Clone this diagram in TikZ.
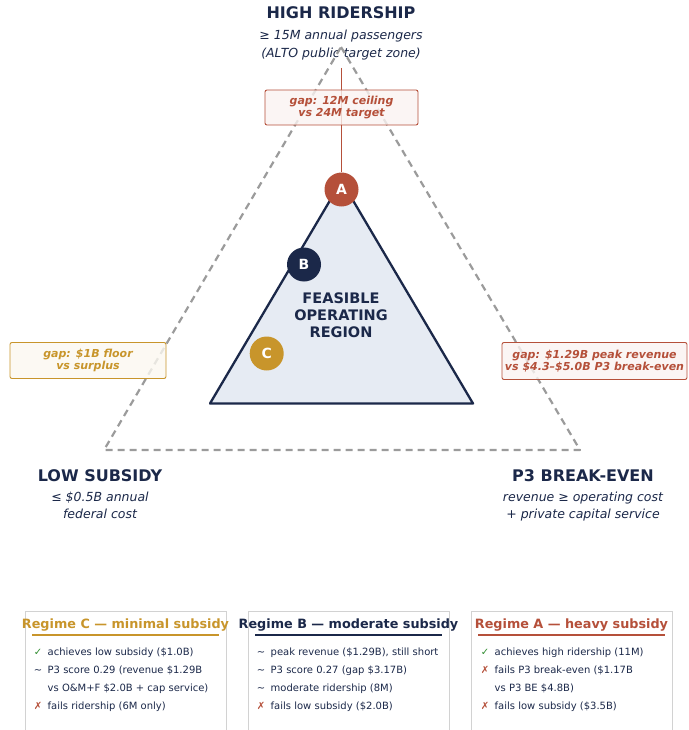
\documentclass[tikz,border=0pt]{standalone}
\usepackage{fontspec}
\setmainfont{DejaVu Sans}
\usepackage{tikz}

\definecolor{navy}{HTML}{1B2849}
\definecolor{rust}{HTML}{B5503A}
\definecolor{gold}{HTML}{C8952B}
\definecolor{okgreen}{HTML}{2E8B2E}
\definecolor{dashgray}{HTML}{9B9B9B}
\definecolor{regionfill}{HTML}{E6EBF3}
\definecolor{boxgray}{HTML}{D2D2D2}

\begin{document}
\begin{tikzpicture}[x=1pt,y=-1pt,
  corner/.style={anchor=base, text=navy, font=\bfseries\fontsize{16}{18}\selectfont},
  cornersub/.style={anchor=base, text=navy, font=\itshape\fontsize{12.5}{14}\selectfont},
  gapbox/.style={draw=#1, line width=0.9pt, fill=#1!7, fill opacity=0.8, text opacity=1,
    rounded corners=2pt, text=#1, align=center, inner sep=0pt,
    font=\bfseries\itshape\fontsize{11}{12}\selectfont},
  dot/.style={circle, fill=#1, minimum size=34pt, inner sep=0pt, text=white,
    font=\bfseries\fontsize{14}{14}\selectfont},
  regimetitle/.style={anchor=base, text=#1, font=\bfseries\fontsize{12.8}{14}\selectfont},
  symb/.style={anchor=base, text=#1, font=\fontsize{10}{12}\selectfont},
  item/.style={anchor=base west, inner sep=0pt, text=navy, font=\fontsize{10}{12}\selectfont}
]
\useasboundingbox (0,0) rectangle (688,730);

% corner labels
\node[corner] (hr) at (341,18.5) {HIGH RIDERSHIP};
\node[cornersub] (hr1) at (341,40) {≥ 15M annual passengers};
\node[cornersub] (hr2) at (341,58) {(ALTO public target zone)};

\node[corner] (ls) at (100,481) {LOW SUBSIDY};
\node[cornersub] (ls1) at (100,501) {≤ \$0.5B annual};
\node[cornersub] (ls2) at (100,518) {federal cost};

\node[corner] (be) at (583,481) {P3 BREAK-EVEN};
\node[cornersub] (be1) at (583,501) {revenue ≥ operating cost};
\node[cornersub] (be2) at (583,518) {+ private capital service};

% target triangle and feasible region
\draw[dashgray, line width=2.2pt, dash pattern=on 7pt off 5pt, line join=round]
  (341,47) -- (580,450) -- (104,450) -- cycle;
\draw[navy, fill=regionfill, line width=2.3pt, line join=round]
  (341.5,181) -- (473,403.5) -- (210,403.5) -- cycle;
\node[text=navy, align=center, font=\bfseries\fontsize{14.5}{17}\selectfont] (region) at (341,315) {FEASIBLE\\OPERATING\\REGION};

% regimes
\node[dot=rust] (A) at (341.5,189.5) {A};
\node[dot=navy] (B) at (304,264.5) {B};
\node[dot=gold] (C) at (266.7,353.5) {C};

\coordinate (atop) at (341.5,68);
\draw[rust, line width=1.2pt] (atop) -- (A);

% gaps
\node[gapbox=rust, minimum width=153pt, minimum height=35pt] (gapA) at (341.5,107.5) {gap: 12M ceiling\\vs 24M target};
\node[gapbox=gold, minimum width=156pt, minimum height=36pt] (gapC) at (88,360.5) {gap: \$1B floor\\vs surplus};
\node[gapbox=rust, minimum width=185pt, minimum height=37pt] (gapB) at (594.5,361) {gap: \$1.29B peak revenue\\vs \$4.3–\$5.0B P3 break-even};

% regime C box
\draw[boxgray, line width=0.8pt] (25,730) |- (226,611) -- (226,730);
\node[regimetitle=gold] (titleC) at (125.5,628.5) {Regime C — minimal subsidy};
\draw[gold, line width=1.8pt] (32,635) -- (219,635);
\node[symb=okgreen] (c1m) at (38,655) {✓};
\node[item] (c1) at (47.5,655) {achieves low subsidy (\$1.0B)};
\node[symb=navy] (c2m) at (38,673) {∼};
\node[item] (c2) at (47.5,673) {P3 score 0.29 (revenue \$1.29B};
\node[item] (c3) at (47.5,691) {vs O\&M+F \$2.0B + cap service)};
\node[symb=rust] (c4m) at (38,709) {✗};
\node[item] (c4) at (47.5,709) {fails ridership (6M only)};

% regime B box
\draw[boxgray, line width=0.8pt] (248,730) |- (449,611) -- (449,730);
\node[regimetitle=navy] (titleB) at (348.5,628.5) {Regime B — moderate subsidy};
\draw[navy, line width=1.8pt] (255,635) -- (442,635);
\node[symb=navy] (b1m) at (261,655) {∼};
\node[item] (b1) at (270.5,655) {peak revenue (\$1.29B), still short};
\node[symb=navy] (b2m) at (261,673) {∼};
\node[item] (b2) at (270.5,673) {P3 score 0.27 (gap \$3.17B)};
\node[symb=navy] (b3m) at (261,691) {∼};
\node[item] (b3) at (270.5,691) {moderate ridership (8M)};
\node[symb=rust] (b4m) at (261,709) {✗};
\node[item] (b4) at (270.5,709) {fails low subsidy (\$2.0B)};

% regime A box
\draw[boxgray, line width=0.8pt] (471,730) |- (672,611) -- (672,730);
\node[regimetitle=rust] (titleA) at (571.5,628.5) {Regime A — heavy subsidy};
\draw[rust, line width=1.8pt] (478,635) -- (665,635);
\node[symb=okgreen] (a1m) at (485,655) {✓};
\node[item] (a1) at (494.5,655) {achieves high ridership (11M)};
\node[symb=rust] (a2m) at (485,673) {✗};
\node[item] (a2) at (494.5,673) {fails P3 break-even (\$1.17B};
\node[item] (a3) at (494.5,691) {vs P3 BE \$4.8B)};
\node[symb=rust] (a4m) at (485,709) {✗};
\node[item] (a4) at (494.5,709) {fails low subsidy (\$3.5B)};
\end{tikzpicture}
\end{document}
